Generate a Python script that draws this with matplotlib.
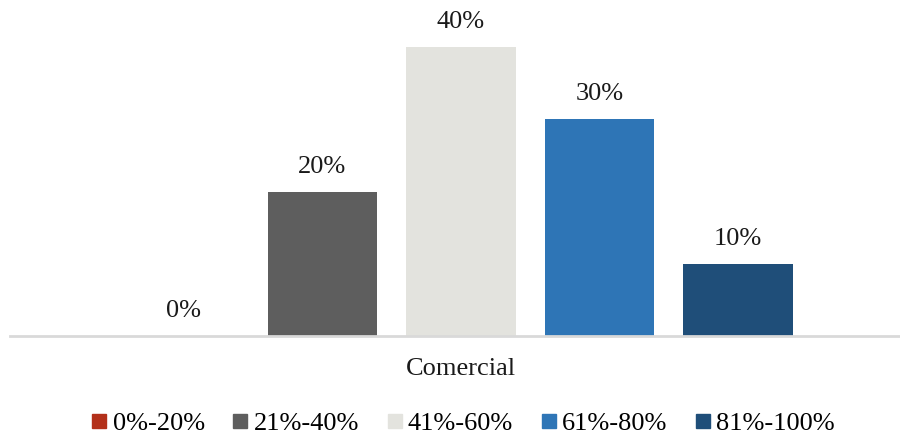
import matplotlib
matplotlib.use("Agg")
import matplotlib.pyplot as plt
from matplotlib.lines import Line2D

plt.rcParams['font.family'] = ['Liberation Serif', 'DejaVu Serif']

category = "Comercial"
series = ["0%-20%", "21%-40%", "41%-60%", "61%-80%", "81%-100%"]
values = [0, 20, 40, 30, 10]
colors = ["#B3301A", "#5E5E5E", "#E3E3DE", "#2E75B6", "#1F4E79"]

fig = plt.figure(figsize=(9, 4.37), dpi=100)
ax = fig.add_axes([10 / 900, 0.231, 1 - 10 / 900, 0.744])

pos = [i - (len(series) - 1) / 2 for i in range(len(series))]
bars = ax.bar(pos, [v / 100 for v in values], width=0.79, color=colors)

for b, v in zip(bars, values):
    ax.annotate(f"{v}%", (b.get_x() + b.get_width() / 2, b.get_height()),
                xytext=(0, 10), textcoords="offset points",
                ha="center", va="bottom", fontsize=19, color="#1a1a1a")

ax.set_ylim(0, 0.45)
ax.set_xlim(-3.256, 3.17)
ax.set_yticks([])
ax.set_xticks([])
for s in ["top", "right", "left"]:
    ax.spines[s].set_visible(False)
ax.spines["bottom"].set_color("#d9d9d9")
ax.spines["bottom"].set_linewidth(2)

fig.text(461 / 900, 0.156, category, ha="center", va="center", fontsize=19, color="#1a1a1a")

handles = [Line2D([], [], marker="s", linestyle="none", markersize=10,
                  markerfacecolor=c, markeredgecolor=c) for c in colors]
fig.legend(handles, series, loc="center", bbox_to_anchor=(0.513, 0.032), ncol=5,
           frameon=False, fontsize=19, handletextpad=0.1, columnspacing=0.95,
           handlelength=0.8, borderpad=0)

fig.savefig("out.png", dpi=100)
